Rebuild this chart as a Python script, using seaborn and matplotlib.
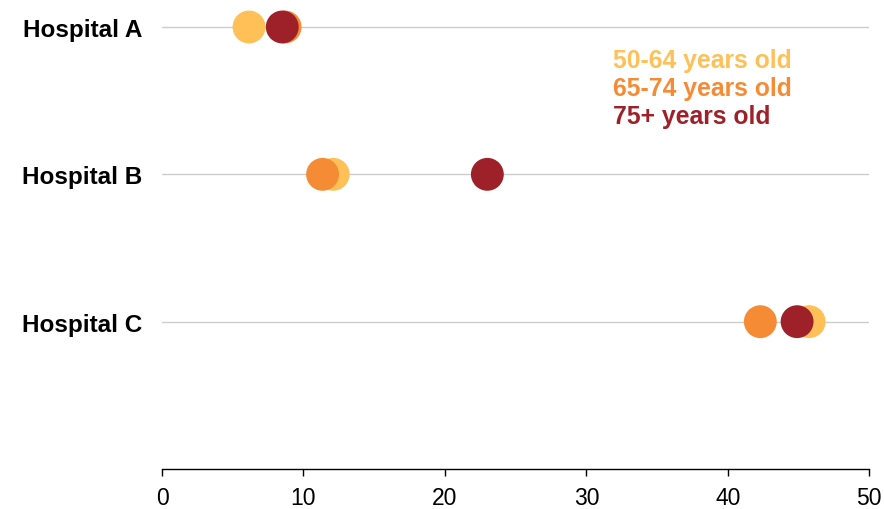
import matplotlib
matplotlib.use("Agg")
import matplotlib.pyplot as plt
import pandas as pd
import seaborn as sns

hospitals = ["Hospital A", "Hospital B", "Hospital C"]
age_groups = ["50-64 years old", "65-74 years old", "75+ years old"]
colors = ["#FEC057", "#F58B35", "#9E2129"]

# values per age group, in hospital order
vals_50_64 = [6.15, 12.1, 45.75]
vals_65_74 = [8.7, 11.35, 42.3]
vals_75_up = [8.5, 23.0, 44.9]

df = pd.DataFrame({
    "hospital": hospitals * 3,
    "group": [g for g in age_groups for _ in hospitals],
    "value": vals_50_64 + vals_65_74 + vals_75_up,
})

sns.set_theme(style="white")
plt.rcParams["font.family"] = ["Liberation Sans", "DejaVu Sans"]

fig = plt.figure(figsize=(8.84, 5.10), dpi=100)
ax = fig.add_axes([0.1833, 0.0784, 0.800, 0.9216])

for y in range(len(hospitals)):
    ax.axhline(y, color="#cccccc", lw=1, zorder=0)

sns.scatterplot(
    data=df, x="value", y="hospital", hue="group",
    hue_order=age_groups, palette=colors,
    s=560, linewidth=0, alpha=1, legend=False, ax=ax, zorder=3,
)

ax.set_xlim(0, 50)
ax.set_ylim(3, -0.19)
ax.set_xticks([0, 10, 20, 30, 40, 50])
ax.set_xlabel("")
ax.set_ylabel("")

for side in ["top", "right", "left"]:
    ax.spines[side].set_visible(False)
ax.spines["bottom"].set_color("black")
ax.spines["bottom"].set_linewidth(1)

ax.tick_params(axis="x", which="both", bottom=True, length=5, width=1,
               color="black", labelsize=16.5, pad=7, labelcolor="black")
ax.tick_params(axis="y", length=0, pad=14, labelsize=17.5)
for lbl in ax.get_yticklabels():
    lbl.set_fontweight("bold")
    lbl.set_color("black")

# legend as coloured text
for i, (g, c) in enumerate(zip(age_groups, colors)):
    ax.text(0.637, 0.871 - i * 0.0596, g, transform=ax.transAxes,
            color=c, fontsize=17.8, fontweight="bold", va="center", ha="left")

fig.savefig("out.png", dpi=100)
